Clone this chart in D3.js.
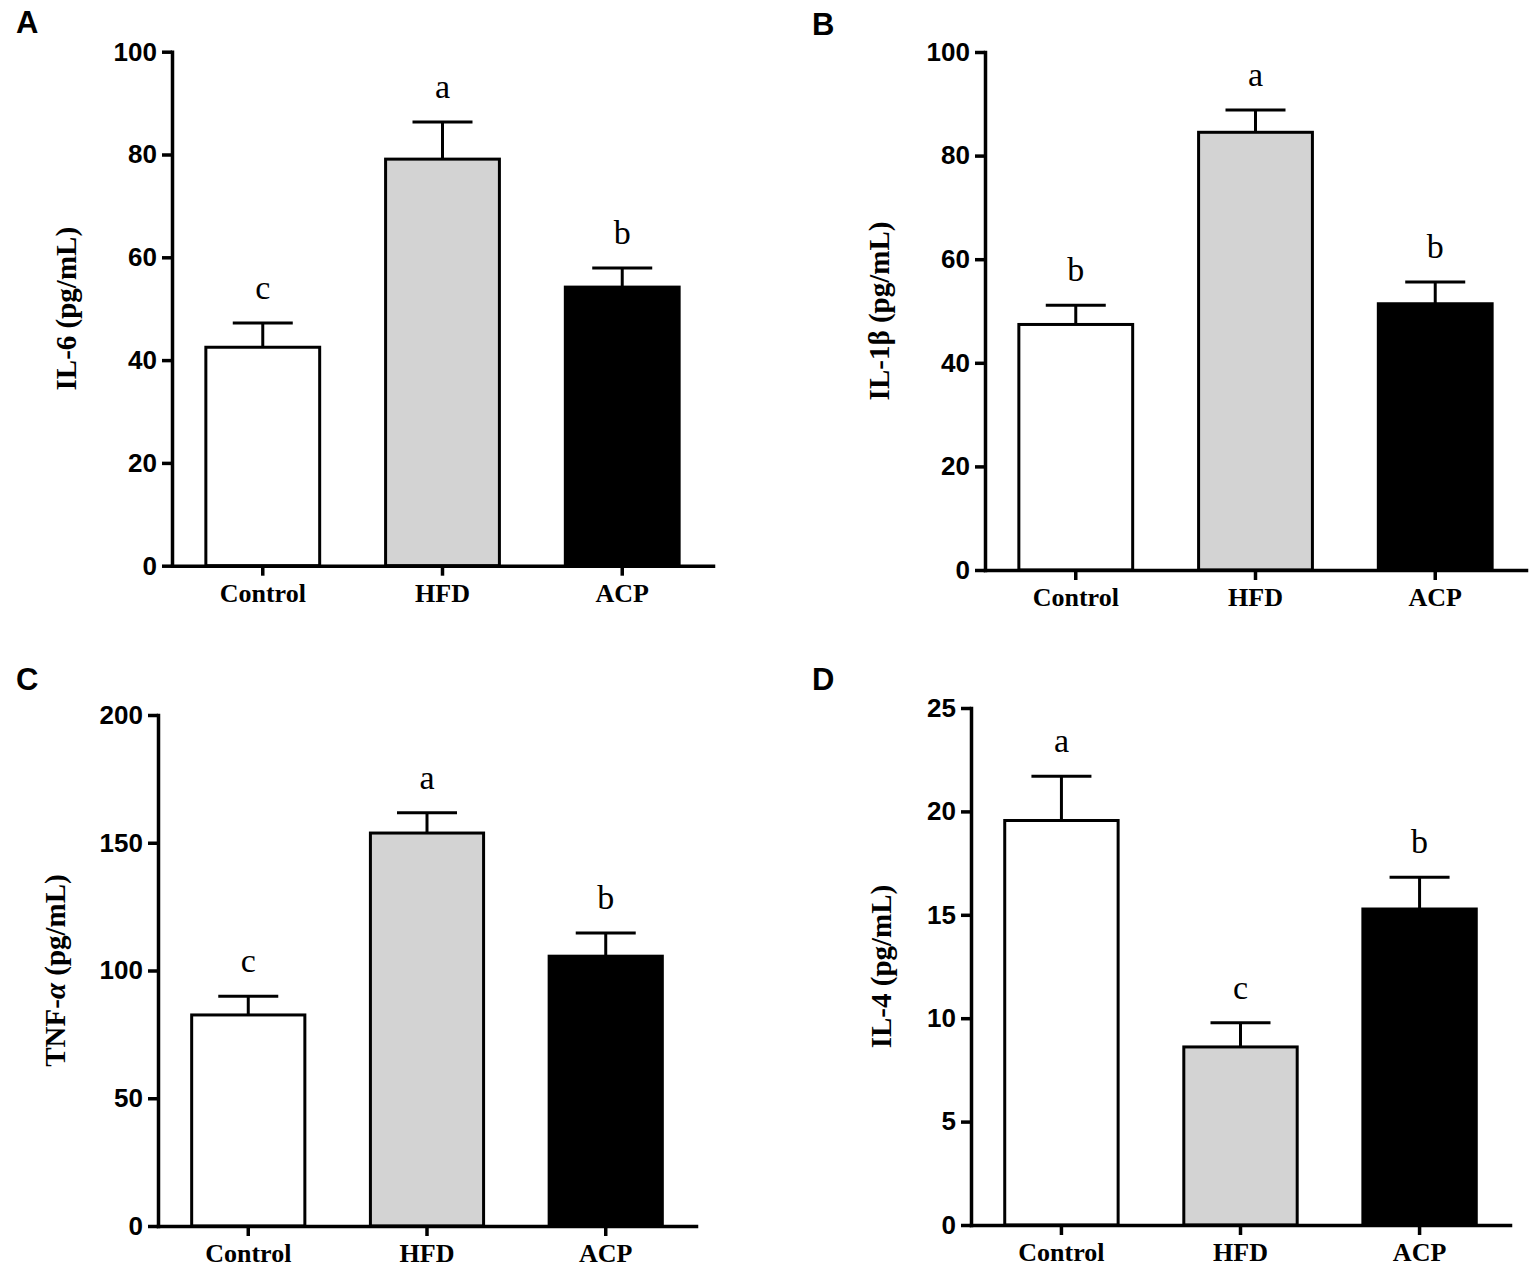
<!DOCTYPE html>
<html>
<head>
<meta charset="utf-8">
<script src="https://cdn.jsdelivr.net/npm/d3@7"></script>
<style>
  html, body { margin: 0; padding: 0; background: #fff; }
  svg { display: block; }
</style>
</head>
<body>
<svg id="chart" width="1535" height="1270"></svg>
<script>
// ---------------- DATA ----------------
const categories = ["Control", "HFD", "ACP"];
const barFills = ["#ffffff", "#d3d3d3", "#000000"];

const il6Mean = [42.5, 79.1, 54.2];
const il6Sem  = [4.7, 7.2, 3.7];
const il6Letters = ["c", "a", "b"];
const il6Ticks = [0, 20, 40, 60, 80, 100];

const il1bMean = [47.4, 84.5, 51.4];
const il1bSem  = [3.7, 4.3, 4.2];
const il1bLetters = ["b", "a", "b"];
const il1bTicks = [0, 20, 40, 60, 80, 100];

const tnfMean = [82.6, 153.8, 105.6];
const tnfSem  = [7.3, 7.9, 9.1];
const tnfLetters = ["c", "a", "b"];
const tnfTicks = [0, 50, 100, 150, 200];

const il4Mean = [19.56, 8.61, 15.28];
const il4Sem  = [2.14, 1.17, 1.53];
const il4Letters = ["a", "c", "b"];
const il4Ticks = [0, 5, 10, 15, 20, 25];

// ---------------- LAYOUT ----------------
const panels = [
  { tag: "A", tagX: 16, tagY: 33, title: ["IL-6 (pg/mL)"], titleX: 66,
    x0: 172, x1: 713, yTop: 51.7, yBot: 565.7,
    mean: il6Mean, sem: il6Sem, letters: il6Letters, ticks: il6Ticks },
  { tag: "B", tagX: 812, tagY: 35, title: ["IL-1β (pg/mL)"], titleX: 879,
    x0: 985, x1: 1526, yTop: 52, yBot: 570,
    mean: il1bMean, sem: il1bSem, letters: il1bLetters, ticks: il1bTicks },
  { tag: "C", tagX: 16, tagY: 690, title: ["TNF-", "α", " (pg/mL)"], titleX: 55,
    x0: 158, x1: 696, yTop: 715, yBot: 1226,
    mean: tnfMean, sem: tnfSem, letters: tnfLetters, ticks: tnfTicks },
  { tag: "D", tagX: 812, tagY: 690, title: ["IL-4 (pg/mL)"], titleX: 881,
    x0: 971, x1: 1510, yTop: 708, yBot: 1225,
    mean: il4Mean, sem: il4Sem, letters: il4Letters, ticks: il4Ticks }
];

const svg = d3.select("#chart");
const sans = "'Liberation Sans', Arial, Helvetica, sans-serif";
const serif = "'Liberation Serif', 'Times New Roman', Times, serif";

panels.forEach(p => {
  const g = svg.append("g");
  const yMax = p.ticks[p.ticks.length - 1];
  const y = d3.scaleLinear().domain([0, yMax]).range([p.yBot, p.yTop]);
  const x = d3.scaleBand().domain(categories).range([p.x0, p.x1])
    .paddingInner(0.35).paddingOuter(0.18);

  // panel tag
  g.append("text").attr("x", p.tagX).attr("y", p.tagY)
    .attr("font-family", sans).attr("font-weight", "bold")
    .attr("font-size", 31).text(p.tag);

  const data = categories.map((c, i) => ({ c, m: p.mean[i], s: p.sem[i], l: p.letters[i], f: barFills[i] }));

  // error bars (upper only)
  const eb = g.append("g").attr("stroke", "#000").attr("stroke-width", 3);
  eb.selectAll("line.v").data(data).join("line")
    .attr("x1", d => x(d.c) + x.bandwidth() / 2).attr("x2", d => x(d.c) + x.bandwidth() / 2)
    .attr("y1", d => y(d.m)).attr("y2", d => y(d.m + d.s));
  eb.selectAll("line.h").data(data).join("line").attr("class", "h")
    .attr("x1", d => x(d.c) + x.bandwidth() / 2 - 30).attr("x2", d => x(d.c) + x.bandwidth() / 2 + 30)
    .attr("y1", d => y(d.m + d.s)).attr("y2", d => y(d.m + d.s));

  // bars
  g.selectAll("rect.bar").data(data).join("rect")
    .attr("x", d => x(d.c) + 1.5).attr("width", x.bandwidth() - 3)
    .attr("y", d => y(d.m)).attr("height", d => y(0) - y(d.m))
    .attr("fill", d => d.f).attr("stroke", "#000").attr("stroke-width", 3);

  // significance letters
  g.selectAll("text.sig").data(data).join("text")
    .attr("x", d => x(d.c) + x.bandwidth() / 2)
    .attr("y", d => y(d.m + d.s) - 24)
    .attr("text-anchor", "middle")
    .attr("font-family", serif).attr("font-size", 34)
    .text(d => d.l);

  // y axis
  const yAxis = g.append("g").attr("transform", `translate(${p.x0},0)`)
    .call(d3.axisLeft(y).tickValues(p.ticks).tickSize(10).tickSizeOuter(0).tickPadding(5));
  yAxis.select(".domain").attr("stroke-width", 3.5).attr("stroke-linecap", "square");
  yAxis.selectAll(".tick line").attr("stroke-width", 3.5);
  yAxis.selectAll(".tick text").attr("font-family", sans).attr("font-weight", "bold")
    .attr("font-size", 26).attr("fill", "#000");

  // x axis
  const xAxis = g.append("g").attr("transform", `translate(0,${p.yBot})`)
    .call(d3.axisBottom(x).tickSize(10).tickSizeOuter(0).tickPadding(8));
  xAxis.select(".domain").attr("stroke-width", 3.5).attr("stroke-linecap", "square");
  xAxis.selectAll(".tick line").attr("stroke-width", 3.5);
  xAxis.selectAll(".tick text").attr("font-family", serif).attr("font-weight", "bold")
    .attr("font-size", 26).attr("fill", "#000");

  // y title
  const cy = (p.yTop + p.yBot) / 2;
  const t = g.append("text")
    .attr("transform", `translate(${p.titleX},${cy}) rotate(-90)`)
    .attr("text-anchor", "middle").attr("dy", "0.35em")
    .attr("font-family", serif).attr("font-weight", "bold").attr("font-size", 29);
  p.title.forEach(s => {
    const ts = t.append("tspan").text(s);
    if (s === "α") ts.attr("font-style", "italic");
  });
});
</script>
</body>
</html>
